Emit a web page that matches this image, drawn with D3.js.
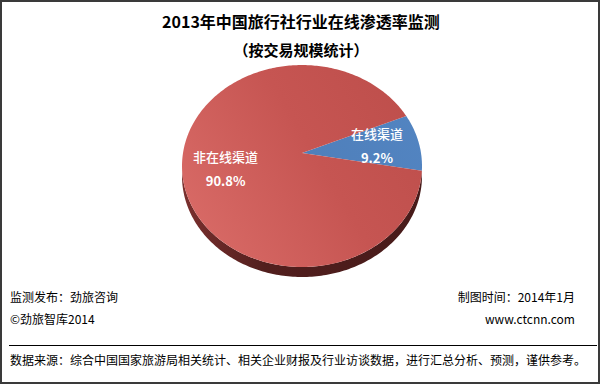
<!DOCTYPE html>
<html>
<head>
<meta charset="utf-8">
<script src="https://cdn.jsdelivr.net/npm/d3@7"></script>
<style>
  body { margin: 0; background: #fff; }
  text { font-family: "Noto Sans CJK SC", "Noto Sans", sans-serif; }
</style>
</head>
<body>
<div id="chart"></div>
<script>
const categories = ['在线渠道', '非在线渠道'];
const values = [9.2, 90.8];
const valueLabels = ['9.2%', '90.8%'];

const width = 600;
const height = 384;

// tilted disc, drawn with a little perspective
const cx = 302;
const cy = 153;
const R = 119;
const S = 99.3;
const k = 0.129;
const depth = 10;
const deg = Math.PI / 180;

const proj = (a, r) => {
  const u = Math.sin(a) * r;
  const v = -Math.cos(a) * r;
  const w = 1 - k * v;
  return [cx + R * u / w, cy + S * v / w];
};

const svg = d3.select('#chart').append('svg')
  .attr('width', width)
  .attr('height', height);

const defs = svg.append('defs');
const grad = (id, x1, y1, x2, y2, stops) => {
  const g = defs.append('linearGradient').attr('id', id)
    .attr('gradientUnits', 'userSpaceOnUse')
    .attr('x1', x1).attr('y1', y1).attr('x2', x2).attr('y2', y2);
  stops.forEach(([o, c]) => g.append('stop').attr('offset', o).attr('stop-color', c));
};
grad('topRed', 185, 230, 420, 90, [[0, '#d96b67'], [0.55, '#c65552'], [1, '#bd4e4b']]);
grad('topBlue', 300, 170, 420, 120, [[0, '#4f7fba'], [1, '#5284c1']]);
grad('sideRed', 182, 0, 420, 0, [[0, '#7a302e'], [0.35, '#521f1e'], [1, '#471b1a']]);
grad('sideBlue', 400, 0, 422, 0, [[0, '#2d4a6e'], [1, '#24405f']]);

const topFill = ['url(#topBlue)', 'url(#topRed)'];
const sideFill = ['url(#sideBlue)', 'url(#sideRed)'];

const pie = d3.pie().sort(null)
  .startAngle(67 * deg)
  .endAngle(67 * deg + 2 * Math.PI);
const arcs = pie(values);

const line = d3.line();
const arcPoints = (a0, a1) => d3.range(0, 1.0001, 1 / Math.max(2, Math.ceil((a1 - a0) / deg)))
  .map(t => a0 + (a1 - a0) * t);

// side wall: only where the rim faces the viewer
const frontA = Math.acos(-k);
const frontB = 2 * Math.PI - frontA;
const sides = svg.append('g');
arcs.forEach((d, i) => {
  [0, 2 * Math.PI].forEach((off) => {
    const lo = Math.max(d.startAngle, frontA + off);
    const hi = Math.min(d.endAngle, frontB + off);
    if (hi <= lo) return;
    const angles = arcPoints(lo, hi);
    const topPts = angles.map(a => proj(a, 1));
    const botPts = topPts.map(p => [p[0], p[1] + depth]).reverse();
    sides.append('path')
      .attr('d', line(topPts.concat(botPts)) + 'Z')
      .attr('fill', sideFill[i]);
  });
});

// top faces
svg.append('g').selectAll('path')
  .data(arcs)
  .enter().append('path')
  .attr('d', d => line([[cx, cy]].concat(arcPoints(d.startAngle, d.endAngle).map(a => proj(a, 1)))) + 'Z')
  .attr('fill', (d, i) => topFill[i]);

// slice labels
const labelShift = [0, 9];
const labels = svg.append('g').selectAll('g')
  .data(arcs)
  .enter().append('g')
  .attr('transform', (d, i) => {
    const p = proj((d.startAngle + d.endAngle) / 2, 0.64);
    return `translate(${p[0]}, ${p[1] + labelShift[i]})`;
  });
labels.append('text')
  .attr('text-anchor', 'middle')
  .attr('y', -7)
  .attr('fill', '#fff')
  .style('font-size', '13px')
  .style('font-weight', 500)
  .text((d, i) => categories[i]);
labels.append('text')
  .attr('text-anchor', 'middle')
  .attr('y', 17)
  .attr('fill', '#fff')
  .style('font-size', '13px')
  .style('font-weight', 'bold')
  .text((d, i) => valueLabels[i]);

// titles
svg.append('text')
  .attr('x', 301).attr('y', 28)
  .attr('text-anchor', 'middle')
  .style('font-size', '16px')
  .style('font-weight', 'bold')
  .text('2013年中国旅行社行业在线渗透率监测');
svg.append('text')
  .attr('x', 301).attr('y', 56)
  .attr('text-anchor', 'middle')
  .style('font-size', '15px')
  .style('font-weight', 'bold')
  .text('（按交易规模统计）');

// footer
const foot = (x, y, anchor, t) => svg.append('text')
  .attr('x', x).attr('y', y)
  .attr('text-anchor', anchor)
  .style('font-size', '12px')
  .text(t);
foot(10, 302, 'start', '监测发布：劲旅咨询');
foot(10, 324, 'start', '©劲旅智库2014');
foot(575, 302, 'end', '制图时间：2014年1月');
foot(575, 324, 'end', 'www.ctcnn.com');

svg.append('line')
  .attr('x1', 9).attr('x2', 597)
  .attr('y1', 345.5).attr('y2', 345.5)
  .attr('stroke', '#000');

foot(10, 365, 'start', '数据来源：综合中国国家旅游局相关统计、相关企业财报及行业访谈数据，进行汇总分析、预测，谨供参考。');

svg.append('rect')
  .attr('x', 1).attr('y', 1)
  .attr('width', width - 2).attr('height', height - 2)
  .attr('fill', 'none')
  .attr('stroke', '#3a3a3a')
  .attr('stroke-width', 2);
</script>
</body>
</html>
